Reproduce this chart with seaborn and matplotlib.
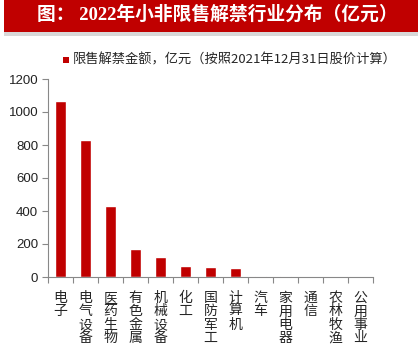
import matplotlib
matplotlib.use("Agg")
import matplotlib.pyplot as plt
import seaborn as sns
import pandas as pd
from matplotlib.patches import Rectangle

categories = ["电子", "电气设备", "医药生物", "有色金属", "机械设备", "化工", "国防军工",
              "计算机", "汽车", "家用电器", "通信", "农林牧渔", "公用事业"]
values = [1065, 832, 430, 172, 122, 66, 62, 57, 5, 4, 1, 1, 1]
yticks = [0, 200, 400, 600, 800, 1000, 1200]
title = "图： 2022年小非限售解禁行业分布（亿元）"
legend_label = "限售解禁金额，亿元（按照2021年12月31日股价计算）"

sns.set_style("white")
plt.rcParams['font.family'] = ['Liberation Sans', 'Noto Sans CJK SC', 'DejaVu Sans']

W, H = 418, 349
fig = plt.figure(figsize=(W / 100, H / 100), dpi=100)

# banner with shadow
fig.patches.append(Rectangle((4 / W, 1 - 36 / H), (W - 4) / W, 4 / H, transform=fig.transFigure,
                             facecolor="#d8d8d8", edgecolor="none", zorder=0))
fig.patches.append(Rectangle((4 / W, 1 - 32 / H), (W - 4) / W, 32 / H, transform=fig.transFigure,
                             facecolor="#C00000", edgecolor="none", zorder=1))
fig.text(217 / W, 1 - 15 / H, title, color="white", fontsize=13.5, fontweight="bold",
         ha="center", va="center", family=['Liberation Serif', 'Noto Sans CJK SC'])

left, right = 48 / W, 373 / W
bottom, top = 1 - 277 / H, 1 - 79 / H
ax = fig.add_axes([left, bottom, right - left, top - bottom])

df = pd.DataFrame({"cat": categories, "val": values})
sns.barplot(data=df, x="cat", y="val", color="#C00000", width=0.42, saturation=1, ax=ax)

ax.set_xlim(-0.5, len(categories) - 0.5)
ax.set_ylim(0, 1200)
ax.set_yticks(yticks)
ax.set_yticklabels([str(v) for v in yticks], fontsize=9.5)
ax.set_xlabel("")
ax.set_ylabel("")

ax.set_xticks([i + 0.5 for i in range(-1, len(categories))], minor=False)
ax.set_xticklabels([])
for i, c in enumerate(categories):
    ax.text(i, -14 / 198 * 1200, "\n".join(c), ha="center", va="top", fontsize=10,
            linespacing=0.95, family=['Noto Sans CJK SC'])

for s in ["top", "right"]:
    ax.spines[s].set_visible(False)
for s in ["left", "bottom"]:
    ax.spines[s].set_color("#888888")
    ax.spines[s].set_linewidth(0.8)
ax.tick_params(axis="both", which="major", length=4, width=0.8, color="#888888",
               direction="out", bottom=True, left=True, pad=3)
ax.tick_params(axis="y", labelcolor="#222222")

# legend
fig.patches.append(Rectangle((63 / W, 1 - 63 / H), 6 / W, 6 / H, transform=fig.transFigure,
                             facecolor="#C00000", edgecolor="none"))
fig.text(73 / W, 1 - 60 / H, legend_label, fontsize=9.5, ha="left", va="center",
         family=['Noto Sans CJK SC'])

fig.savefig("out.png", dpi=100)
